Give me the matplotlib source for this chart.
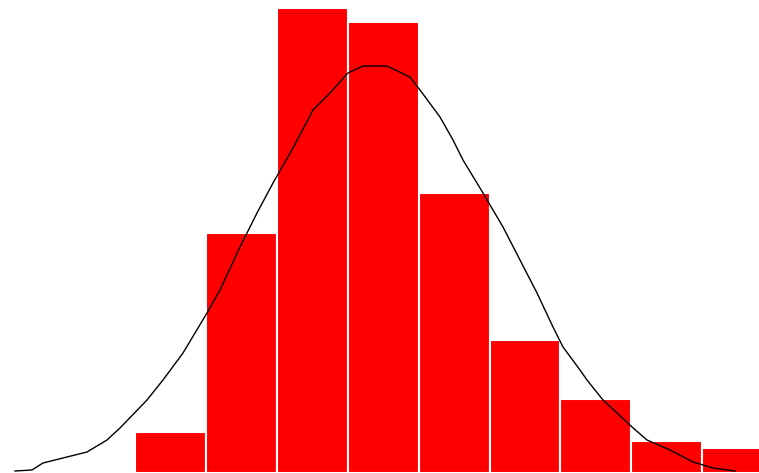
import numpy as np
import matplotlib.pyplot as plt

# histogram bins (left edges) and bar heights
bin_left = [135, 205.9, 276.8, 347.7, 418.6, 489.5, 560.4, 631.3, 702.2]
bin_width = 70.9
heights = [41, 240, 465, 451, 280, 133, 74, 32, 25]

# density curve points
curve_x = [15, 32, 43, 67, 87, 107, 120, 147, 163, 183, 207, 220, 240, 257, 273,
           293, 313, 330, 348, 363, 387, 410, 420, 440, 453, 463, 483, 503, 520,
           537, 553, 563, 580, 587, 603, 632, 647, 670, 693, 713, 735]
curve_y = [2, 3, 10, 16, 21, 33, 45, 73, 93, 120, 160, 183, 226, 260, 290,
           325, 363, 380, 400, 407, 407, 396, 383, 356, 333, 313, 280, 246, 213,
           180, 146, 126, 103, 93, 73, 46, 33, 23, 11, 5, 2]

fig = plt.figure(figsize=(7.59, 4.73), dpi=100)
ax = fig.add_axes([0, 0, 1, 1])
ax.bar(bin_left, heights, width=bin_width, align='edge',
       color='#ff0000', edgecolor='white', linewidth=1.5)
ax.plot(curve_x, curve_y, color='black', linewidth=1)
ax.set_xlim(0, 759)
ax.set_ylim(0, 473)
ax.axis('off')
fig.savefig('out.png', dpi=100, facecolor='white')
